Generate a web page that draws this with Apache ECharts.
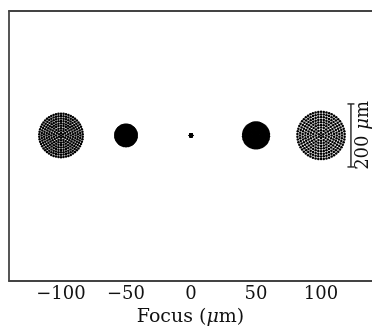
<!DOCTYPE html>
<html>
<head>
<meta charset="utf-8">
<script src="https://cdn.jsdelivr.net/npm/echarts@6/dist/echarts.min.js"></script>
<style>
html,body{margin:0;padding:0;background:#fff;}
#chart{width:372px;height:328px;}
</style>
</head>
<body>
<div id="chart"></div>
<script>
// Focus positions (µm) of each spot diagram
const focusPositions = [-100, -50, 0, 50, 100];
// Spot radii (µm, same scale as the 200 µm scale bar)
const spotRadii = [73, 38, 7, 45, 79];
// x-axis tick values
const xTicks = [-100, -50, 0, 50, 100];
// Scale bar: focus-axis position and length (µm)
const scaleBarX = [123];
const scaleBarLength = [200];

const FONT = 'DejaVu Serif';
const INK = '#111';
const FRAME = {lineStyle: {color: '#444', width: 1.8}};

const spotData = focusPositions.map((f, i) => [f, spotRadii[i]]);
const barData = scaleBarX.map((x, i) => [x, scaleBarLength[i]]);

const chart = echarts.init(document.getElementById('chart'), null, {renderer: 'canvas'});
chart.setOption({
  animation: false,
  backgroundColor: '#fff',
  grid: {left: 9, right: 0, top: 11, bottom: 47, show: false, outerBoundsMode: 'none', containLabel: false},
  xAxis: [{
    type: 'value', min: -140, max: 139.2, position: 'bottom',
    axisLine: Object.assign({show: true, onZero: false}, FRAME),
    axisTick: {show: false},
    splitLine: {show: false},
    axisLabel: {
      customValues: xTicks,
      margin: 4,
      fontFamily: FONT, fontSize: 18, color: INK,
      formatter: v => String(v).replace('-', '\u2212')
    },
    name: '{n|Focus (}{i|μ}{n|m)}',
    nameLocation: 'middle',
    nameGap: 25,
    nameTextStyle: {
      rich: {
        n: {fontFamily: FONT, fontSize: 19, color: INK},
        i: {fontFamily: FONT, fontSize: 19, fontStyle: 'italic', color: INK}
      }
    }
  }, {
    type: 'value', min: -140, max: 139.2, position: 'top',
    axisLine: Object.assign({show: true, onZero: false}, FRAME),
    axisTick: {show: false}, axisLabel: {show: false}, splitLine: {show: false}
  }],
  yAxis: {
    type: 'value', min: -462, max: 395, position: 'left',
    axisLine: Object.assign({show: true, onZero: false}, FRAME),
    axisTick: {show: false}, axisLabel: {show: false}, splitLine: {show: false}
  },
  series: [
    {
      type: 'custom',
      data: spotData,
      renderItem: function (params, api) {
        const c = api.coord([api.value(0), 0]);
        const r = api.size([0, api.value(1)])[1];
        const dotR = 1.25;
        const rings = 9;
        const children = [];
        const outer = Math.max(r - dotR, 0);
        for (let i = 0; i <= rings; i++) {
          const rr = outer * i / rings;
          const n = i === 0 ? 1 : 6 * i;
          for (let k = 0; k < n; k++) {
            const a = 2 * Math.PI * k / n + Math.PI / 2;
            children.push({
              type: 'circle',
              shape: {cx: c[0] + rr * Math.cos(a), cy: c[1] + rr * Math.sin(a), r: dotR},
              style: {fill: '#000'}
            });
          }
        }
        return {type: 'group', children: children};
      }
    },
    {
      type: 'custom',
      data: barData,
      renderItem: function (params, api) {
        const top = api.coord([api.value(0), api.value(1) / 2]);
        const bot = api.coord([api.value(0), -api.value(1) / 2]);
        const cap = 3.5;
        const st = {stroke: '#222', lineWidth: 1.4};
        return {
          type: 'group',
          children: [
            {type: 'line', shape: {x1: top[0], y1: top[1], x2: bot[0], y2: bot[1]}, style: st},
            {type: 'line', shape: {x1: top[0] - cap, y1: top[1], x2: top[0] + cap, y2: top[1]}, style: st},
            {type: 'line', shape: {x1: bot[0] - cap, y1: bot[1], x2: bot[0] + cap, y2: bot[1]}, style: st},
            {
              type: 'text',
              x: top[0] + 12, y: (top[1] + bot[1]) / 2,
              rotation: Math.PI / 2,
              style: {
                text: '{n|200 }{i|μ}{n|m}',
                rich: {
                  n: {fontFamily: FONT, fontSize: 18, fill: INK},
                  i: {fontFamily: FONT, fontSize: 18, fontStyle: 'italic', fill: INK}
                },
                align: 'center', verticalAlign: 'middle'
              }
            }
          ]
        };
      }
    }
  ]
});
</script>
</body>
</html>
